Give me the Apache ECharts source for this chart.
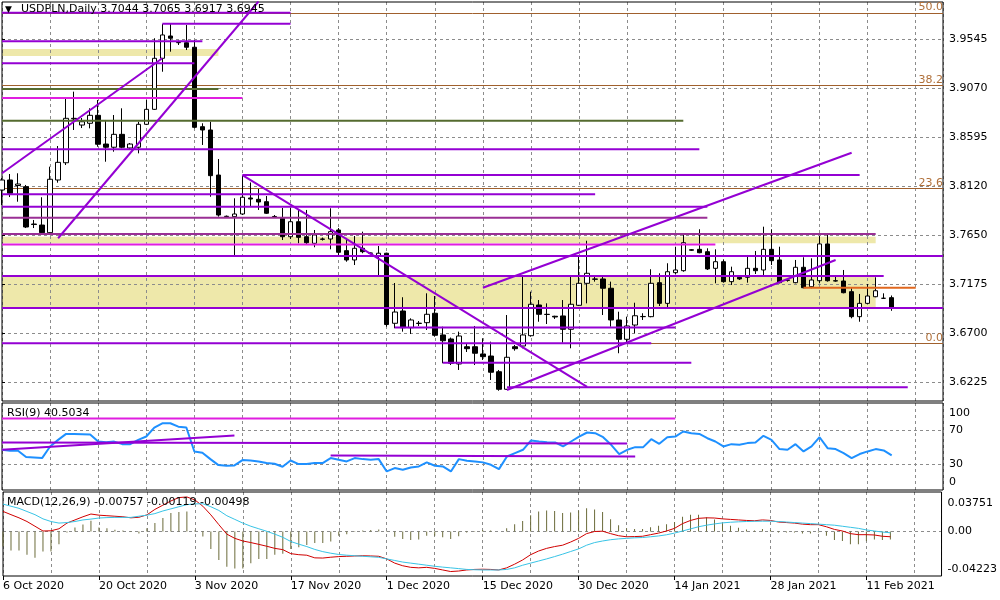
<!DOCTYPE html>
<html><head><meta charset="utf-8">
<script src="https://cdn.jsdelivr.net/npm/echarts/dist/echarts.min.js"></script>
<style>html,body{margin:0;padding:0;background:#fff}#c{width:1000px;height:600px}</style>
</head><body><div id="c"></div>
<script>
// ---------------- DATA ----------------
const symbolName = 'USDPLN,Daily';
const lastOHLC = [3.7044, 3.7065, 3.6917, 3.6945];
const dateTickIdx = [0, 12, 24, 36, 48, 60, 72, 84, 96, 108];
const dateTickLabels = ['6 Oct 2020','20 Oct 2020','3 Nov 2020','17 Nov 2020','1 Dec 2020','15 Dec 2020','30 Dec 2020','14 Jan 2021','28 Jan 2021','11 Feb 2021'];
const priceTicks = [3.6225, 3.6700, 3.7175, 3.7650, 3.8120, 3.8595, 3.9070, 3.9545];
const rsiTicks = [0, 30, 70, 100];
const macdTicks = [-0.04223, 0, 0.03751];

// daily bars: [open, close, low, high]
const ohlc = [
[3.8086,3.8183,3.7941,3.8202],[3.8183,3.8054,3.8018,3.8241],[3.8130,3.8144,3.7973,3.8248],[3.8118,3.7728,3.7718,3.8135],
[3.7757,3.7752,3.7718,3.7796],[3.7747,3.7673,3.7670,3.8016],[3.7673,3.8190,3.7665,3.8312],[3.8183,3.8354,3.8157,3.8512],
[3.8350,3.8780,3.8328,3.8974],[3.8774,3.8780,3.8667,3.9038],[3.8715,3.8747,3.8686,3.8783],[3.8732,3.8809,3.8683,3.8877],
[3.8809,3.8529,3.8505,3.8957],[3.8531,3.8500,3.8360,3.8764],[3.8500,3.8625,3.8457,3.8812],[3.8625,3.8500,3.8490,3.8877],
[3.8493,3.8531,3.8483,3.8541],[3.8500,3.8722,3.8441,3.8747],[3.8722,3.8867,3.8715,3.8957],[3.8867,3.9361,3.8861,3.9555],
[3.9361,3.9587,3.9231,3.9693],[3.9577,3.9555,3.9425,3.9693],[3.9512,3.9514,3.9490,3.9533],[3.9512,3.9468,3.9441,3.9683],
[3.9468,3.8693,3.8683,3.9538],[3.8699,3.8667,3.8522,3.8732],[3.8667,3.8225,3.8021,3.8747],[3.8231,3.7844,3.7828,3.8386],
[3.7828,3.7832,3.7815,3.7839],[3.7828,3.7854,3.7457,3.8006],[3.7854,3.8016,3.7844,3.8225],[3.8009,3.7999,3.7931,3.8159],
[3.7996,3.7970,3.7893,3.8096],[3.7973,3.7861,3.7854,3.8028],[3.7830,3.7827,3.7815,3.7844],[3.7812,3.7634,3.7602,3.7912],
[3.7634,3.7779,3.7612,3.7912],[3.7779,3.7628,3.7570,3.7893],[3.7634,3.7576,3.7554,3.7893],[3.7570,3.7651,3.7532,3.7699],
[3.7612,3.7609,3.7597,3.7626],[3.7612,3.7683,3.7512,3.7909],[3.7699,3.7483,3.7441,3.7718],[3.7499,3.7409,3.7392,3.7622],
[3.7409,3.7522,3.7360,3.7641],[3.7522,3.7489,3.7474,3.7683],[3.7476,3.7474,3.7467,3.7481],[3.7450,3.7474,3.7263,3.7544],
[3.7474,3.6784,3.6763,3.7479],[3.6796,3.6905,3.6748,3.7186],[3.6915,3.6753,3.6715,3.7048],[3.6753,3.6828,3.6692,3.6844],
[3.6794,3.6797,3.6770,3.6818],[3.6802,3.6883,3.6731,3.7086],[3.6893,3.6680,3.6666,3.7060],[3.6683,3.6627,3.6409,3.6763],
[3.6644,3.6409,3.6392,3.6658],[3.6402,3.6673,3.6344,3.6715],[3.6569,3.6550,3.6518,3.6605],[3.6569,3.6506,3.6392,3.6770],
[3.6499,3.6473,3.6441,3.6651],[3.6479,3.6322,3.6247,3.6618],[3.6327,3.6157,3.6143,3.6344],[3.6157,3.6467,3.6150,3.6876],
[3.6569,3.6550,3.6531,3.6586],[3.6576,3.6683,3.6554,3.7247],[3.6676,3.6980,3.6666,3.7102],[3.6973,3.6883,3.6811,3.7021],
[3.6881,3.6883,3.6789,3.6989],[3.6864,3.6857,3.6838,3.6869],[3.6867,3.6738,3.6608,3.7021],[3.6738,3.6980,3.6554,3.7247],
[3.6970,3.7183,3.6963,3.7441],[3.7183,3.7280,3.6989,3.7595],[3.7225,3.7222,3.7199,3.7247],[3.7225,3.7135,3.6876,3.7247],
[3.7135,3.6828,3.6763,3.7199],[3.6828,3.6641,3.6506,3.6908],[3.6641,3.6770,3.6596,3.6860],[3.6779,3.6869,3.6699,3.6995],
[3.6860,3.6862,3.6828,3.6893],[3.6860,3.7183,3.6854,3.7319],[3.7189,3.6989,3.6963,3.7280],[3.6989,3.7295,3.6951,3.7377],
[3.7286,3.7312,3.7273,3.7537],[3.7305,3.7576,3.7295,3.7670],[3.7508,3.7503,3.7496,3.7515],[3.7512,3.7479,3.7474,3.7706],
[3.7489,3.7322,3.7312,3.7522],[3.7328,3.7392,3.7183,3.7512],[3.7392,3.7199,3.7189,3.7415],[3.7199,3.7295,3.7167,3.7344],
[3.7241,3.7225,3.7215,3.7249],[3.7241,3.7328,3.7189,3.7457],[3.7328,3.7305,3.7273,3.7496],[3.7312,3.7512,3.7263,3.7731],
[3.7512,3.7402,3.7360,3.7706],[3.7409,3.7189,3.7183,3.7537],[3.7215,3.7212,3.7199,3.7232],[3.7189,3.7338,3.7183,3.7409],
[3.7338,3.7140,3.7135,3.7435],[3.7150,3.7215,3.7135,3.7425],[3.7208,3.7564,3.7183,3.7641],[3.7564,3.7208,3.7199,3.7651],
[3.7208,3.7205,3.7199,3.7263],[3.7205,3.7092,3.7086,3.7312],[3.7102,3.6860,3.6844,3.7135],[3.6860,3.6989,3.6811,3.7080],
[3.6989,3.7060,3.6983,3.7176],[3.7053,3.7111,3.7048,3.7241],[3.7038,3.7038,3.7036,3.7086],[3.7044,3.6945,3.6917,3.7065]
];

const rsi = [47,45.8,45.8,38.5,38,37.3,50.8,58.6,65.6,65.6,
65.3,64.8,56.6,55.9,56.6,53.6,53.6,58.6,62.5,73,
78,78,74,73,45,43.5,36.1,29.1,28.3,28.7,
35,34.5,33.3,31.5,30.7,27.2,34.5,30.3,30.3,31.5,
31.5,37.3,35.4,33.4,37.3,36.1,35.4,36.1,21.7,25.6,
23.7,26.4,27.6,32.3,28.4,27.6,21.7,36.1,34.2,33.4,
32.3,29.5,24.4,39.2,43.1,47,57.9,56.7,55.9,55.6,
50.9,56.7,62.5,67.2,66.4,61.7,52.8,42,47,50.1,
50.1,59.4,54,61.7,62.5,68.4,66.4,65.6,60.5,56.7,
50.9,53.6,52.8,54.8,55.6,63.3,58.6,47.8,47,53.6,
45.1,50.9,61.7,48.9,47.8,43.1,37.3,42,45.1,47.8,
46.2,40.5034];

const macdMain = [0.0191,0.016,0.013,0.0095,0.005,0.0005,0.0007,0.0026,0.008,0.011,
0.014,0.0166,0.0155,0.015,0.0145,0.014,0.013,0.0135,0.0158,0.021,
0.025,0.029,0.0322,0.0328,0.030,0.024,0.0158,0.0065,-0.0025,-0.0065,
-0.009,-0.0105,-0.0122,-0.014,-0.016,-0.0172,-0.021,-0.022,-0.0225,-0.025,
-0.0252,-0.0244,-0.0238,-0.0235,-0.0232,-0.023,-0.0232,-0.0235,-0.026,-0.030,
-0.0325,-0.034,-0.0345,-0.034,-0.035,-0.0365,-0.038,-0.0375,-0.0365,-0.036,
-0.0358,-0.036,-0.0365,-0.0345,-0.031,-0.027,-0.022,-0.0185,-0.016,-0.0143,
-0.013,-0.010,-0.0065,-0.002,0,0.0003,-0.002,-0.004,-0.005,-0.0048,
-0.0045,-0.003,-0.0015,0.0005,0.003,0.0075,0.0105,0.0125,0.013,0.0128,
0.012,0.0115,0.011,0.0105,0.0102,0.011,0.0105,0.009,0.0085,0.008,
0.007,0.0065,0.0065,0.0045,0.002,0.0005,-0.002,-0.003,-0.003,-0.0033,
-0.0045,-0.00498];

const macdSignal = [0.026,0.024,0.022,0.019,0.016,0.012,0.0095,0.008,0.0085,0.0095,
0.011,0.0118,0.0128,0.0132,0.0134,0.0134,0.0134,0.0145,0.0155,0.017,
0.0195,0.0215,0.0235,0.0255,0.0262,0.0264,0.0235,0.020,0.015,0.0115,
0.008,0.005,0.0026,0.0002,-0.0025,-0.0055,-0.0095,-0.012,-0.0143,-0.017,
-0.0191,-0.0206,-0.0218,-0.0225,-0.023,-0.0235,-0.024,-0.0245,-0.026,-0.0275,
-0.029,-0.030,-0.031,-0.032,-0.033,-0.0338,-0.0345,-0.0352,-0.036,-0.0363,
-0.0365,-0.0365,-0.0365,-0.036,-0.0345,-0.032,-0.030,-0.028,-0.026,-0.0238,
-0.0215,-0.019,-0.0165,-0.013,-0.0105,-0.009,-0.0078,-0.007,-0.0065,-0.006,
-0.0057,-0.005,-0.0042,-0.0031,-0.0015,0.0005,0.0025,0.0045,0.006,0.0072,
0.0082,0.0088,0.0092,0.0095,0.0097,0.0098,0.0098,0.0095,0.009,0.0085,
0.008,0.0075,0.007,0.0065,0.006,0.005,0.004,0.003,0.0015,0.0005,
-0.0005,-0.00119];

const macdHist = [-0.0143,-0.018,-0.018,-0.022,-0.0248,-0.019,-0.019,-0.012,-0.001,0.0038,
0.0067,0.0102,0.0038,0.0032,0.0016,0.001,-0.0005,-0.002,0.003,0.008,
0.0128,0.0175,0.0185,0.019,0.001,-0.0048,-0.0165,-0.027,-0.0334,-0.035,
-0.035,-0.0302,-0.026,-0.026,-0.022,-0.021,-0.0165,-0.015,-0.0127,-0.011,
-0.011,-0.0095,-0.004,-0.0025,-0.0005,0.001,0.0015,0.002,-0.0005,-0.005,
-0.007,-0.008,-0.0075,-0.004,-0.004,-0.0055,-0.007,-0.0045,-0.001,0.0005,
0.0015,0.001,0,0.003,0.007,0.010,0.0155,0.019,0.020,0.0195,
0.0175,0.018,0.020,0.022,0.021,0.0186,0.0116,0.006,0.003,0.0025,
0.0024,0.004,0.0055,0.007,0.009,0.014,0.016,0.016,0.0135,0.0115,
0.0075,0.0055,0.0036,0.002,0.001,0.0024,0.0014,-0.001,-0.001,-0.001,
-0.002,-0.002,-0.001,-0.004,-0.008,-0.009,-0.012,-0.012,-0.009,-0.0076,
-0.008,-0.00757];

// drawn objects: horizontal levels [price, fromBar, toBar]
const XMAX = 117.4;
const purpleLevels = [[3.9803,0,36],[3.9696,20,36],[3.9526,0,25],[3.9313,0,24],[3.8480,0,87],[3.8232,30,107],
  [3.8045,0,74],[3.7925,0,88],[3.7448,0,XMAX],[3.7254,0,110],[3.6945,0,XMAX],[3.6754,49,84],[3.6602,0,81],
  [3.6415,55,86],[3.6177,63,113]];
const mauveLevels = [[3.7818,0,88],[3.7660,0,109]];
const magentaLevels = [[3.8977,0,30],[3.7558,0,89]];
const oliveLevels = [[3.9064,0,27],[3.8757,0,85]];
const orangeLevels = [[3.7140,100,114]];
// zones [priceTop, priceBottom, fromBar, toBar]
const zones = [[3.9451,3.9383,0,27],[3.7634,3.7570,0,109],[3.7247,3.6947,0,109]];
// trend lines [bar1, price1, bar2, price2]
const trendLines = [[0,3.8248,20,3.9361],[7,3.7619,32,3.9911],[30,3.8231,73,3.6180],[63,3.6150,104,3.7409],[60,3.7140,106,3.8447]];
// Fibonacci levels
const fibNames = ['50.0','38.2','23.6','0.0'];
const fibPrices = [3.9813, 3.9066, 3.8110, 3.6579];
// RSI window objects
const rsiMagentaLevels = [[83.7,0,84]];
const rsiTrendLines = [[0,55.5,78,54.3],[0,47,29,63.6],[41,40.3,79,39.2]];

// ---------------- CHART ----------------
const FONT = 'DejaVu Sans';
const C = {purple:'#9400D3', mauve:'#9A2F95', magenta:'#E01EE0', olive:'#556B2F', orange:'#E0671E',
  zone:'#EEE8AA', fib:'#A0602D', fibText:'#B0703A', grid:'#8C8C8C', rsi:'#1E90FF', macd:'#D00000', signal:'#38C4E6', hist:'#6B6B3A'};
const L = 2, W = 941;
const grids = [
  {left:L, top:2, width:W, height:399},
  {left:L, top:403, width:W, height:87},
  {left:L, top:492, width:W, height:84}
];
const yRanges = [[3.60437, 3.9906],[0, 101.7],[-0.04223, 0.03751]];
const dash = {color:C.grid, type:[3,3], width:1};

const xAxes = grids.map((g, k) => ({
  type:'value', gridIndex:k, min:0, max:XMAX, interval:6, z:1,
  axisLine:{show:false}, axisTick:{show:false},
  splitLine:{show:true, lineStyle:dash},
  axisLabel:{show:k===2, align:'left', margin:5, color:'#000', fontFamily:FONT, fontSize:11,
    formatter:v => { const j = dateTickIdx.indexOf(Math.round(v)); return (j>=0 && Math.abs(v-Math.round(v))<1e-6) ? dateTickLabels[j] : ''; }}
}));
// small date ticks under the bottom window
xAxes.push({type:'value', gridIndex:2, position:'bottom', min:0, max:XMAX, z:1,
  axisLine:{show:false}, splitLine:{show:false}, axisLabel:{show:false},
  axisTick:{show:true, length:4, customValues:dateTickIdx, lineStyle:{color:'#000'}}});

function nearestLabel(ticks, pos, fmt) {
  return v => { let b=0; pos.forEach((p,i)=>{ if (Math.abs(p-v) < Math.abs(pos[b]-v)) b=i; }); return fmt(ticks[b]); };
}
const rsiLabelPos = [9.4, 30, 70, 90];
const macdLabelPos = [-0.0356, 0, 0.02705];
const axisLab = {color:'#000', fontFamily:FONT, fontSize:11, margin:6};
const yAxes = [
  {type:'value', gridIndex:0, position:'right', min:yRanges[0][0], max:yRanges[0][1], z:1,
   axisLine:{show:false}, axisTick:{show:true, length:3, customValues:priceTicks, lineStyle:{color:'#000'}},
   splitLine:{show:true, lineStyle:dash},
   axisLabel:Object.assign({customValues:priceTicks, formatter:v=>v.toFixed(4)}, axisLab)},
  {type:'value', gridIndex:1, position:'right', min:yRanges[1][0], max:yRanges[1][1], z:1,
   axisLine:{show:false}, axisTick:{show:false, customValues:[30,70]},
   splitLine:{show:true, lineStyle:dash},
   axisLabel:Object.assign({customValues:rsiLabelPos, formatter:nearestLabel(rsiTicks, rsiLabelPos, t=>String(t))}, axisLab)},
  {type:'value', gridIndex:2, position:'right', min:yRanges[2][0], max:yRanges[2][1], z:1,
   axisLine:{show:false}, axisTick:{show:false, customValues:[0]},
   splitLine:{show:true, lineStyle:dash},
   axisLabel:Object.assign({customValues:macdLabelPos, formatter:nearestLabel(macdTicks, macdLabelPos, t=>t===0?'0.00':t.toFixed(5))}, axisLab)}
];

const series = [];
series.push({
  type:'candlestick', name:'bars', xAxisIndex:0, yAxisIndex:0, z:3, silent:true, animation:false,
  data: ohlc.map((d,i)=>[i, d[0], d[1], d[2], d[3]]),
  encode:{x:0, y:[1,2,3,4]},
  barWidth:5,
  itemStyle:{color:'#fff', color0:'#000', borderColor:'#000', borderColor0:'#000', borderWidth:1},
  markArea:{silent:true, z:0, animation:false, itemStyle:{color:C.zone},
    data: zones.map(z=>[{coord:[z[2], z[0]]},{coord:[z[3], z[1]]}])},
  markLine:{silent:true, z:2, animation:false, symbol:['none','none'],
    data: fibPrices.map((p,i)=>({yAxis:p, lineStyle:{color:C.fib, width:1, type:'solid'},
      label:{show:true, position:'insideEndTop', distance:0, formatter:fibNames[i], color:C.fibText, fontFamily:FONT, fontSize:11}}))
      .concat([{yAxis:lastOHLC[3], lineStyle:{width:0, opacity:0},
      label:{show:true, position:'end', distance:2, formatter:lastOHLC[3].toFixed(4), color:'#fff', backgroundColor:'#000',
        padding:[2,6,1,3], fontFamily:FONT, fontSize:11}}])}
});

function seg(xi, yi, pts, color, width, z) {
  series.push({type:'line', xAxisIndex:xi, yAxisIndex:yi, data:pts, symbol:'none', showSymbol:false, silent:true,
    animation:false, z:z||4, lineStyle:{color:color, width:width||2}});
}
[[purpleLevels,C.purple],[mauveLevels,C.mauve],[magentaLevels,C.magenta],[oliveLevels,C.olive],[orangeLevels,C.orange]]
  .forEach(([arr,col]) => arr.forEach(l => seg(0,0,[[l[1],l[0]],[l[2],l[0]]], col, 2)));
trendLines.forEach(t => seg(0,0,[[t[0],t[1]],[t[2],t[3]]], C.purple, 2));

// RSI
series.push({type:'line', xAxisIndex:1, yAxisIndex:1, data:rsi.map((v,i)=>[i,v]), symbol:'none', silent:true,
  animation:false, z:3, lineStyle:{color:C.rsi, width:2}});
rsiMagentaLevels.forEach(l => seg(1,1,[[l[1],l[0]],[l[2],l[0]]], C.magenta, 2));
rsiTrendLines.forEach(t => seg(1,1,[[t[0],t[1]],[t[2],t[3]]], C.purple, 2));

// MACD
series.push({type:'bar', xAxisIndex:2, yAxisIndex:2, data:macdHist.map((v,i)=>[i,v]), barWidth:1, silent:true,
  animation:false, z:2, itemStyle:{color:C.hist}});
series.push({type:'line', xAxisIndex:2, yAxisIndex:2, data:macdMain.map((v,i)=>[i,v]), symbol:'none', silent:true,
  animation:false, z:3, lineStyle:{color:C.macd, width:1}});
series.push({type:'line', xAxisIndex:2, yAxisIndex:2, data:macdSignal.map((v,i)=>[i,v]), symbol:'none', silent:true,
  animation:false, z:3, lineStyle:{color:C.signal, width:1}});

const n = macdHist.length - 1;
const tStyle = {color:'#000', fontFamily:FONT, fontSize:11, fontWeight:'normal'};
const option = {
  animation:false,
  backgroundColor:'#fff',
  textStyle:{fontFamily:FONT},
  title:[
    {text:'\u25BC', left:5, top:5, padding:0, textStyle:Object.assign({}, tStyle, {fontSize:9})},
    {text:symbolName + ' ' + lastOHLC.map(v=>v.toFixed(4)).join(' '), left:21, top:4, padding:0, textStyle:tStyle},
    {text:'RSI(9) ' + rsi[n].toFixed(4), left:7, top:408, padding:0, textStyle:tStyle},
    {text:'MACD(12,26,9) ' + [macdHist[n], macdSignal[n], macdMain[n]].map(v=>v.toFixed(5)).join(' '), left:7, top:497, padding:0, textStyle:tStyle}
  ],
  grid: grids.map(g => Object.assign({show:true, borderColor:'#000', borderWidth:1, backgroundColor:'transparent', z:2, containLabel:false}, g)),
  xAxis: xAxes,
  yAxis: yAxes,
  series: series
};
const chart = echarts.init(document.getElementById('c'));
chart.setOption(option);
</script>
</body></html>
